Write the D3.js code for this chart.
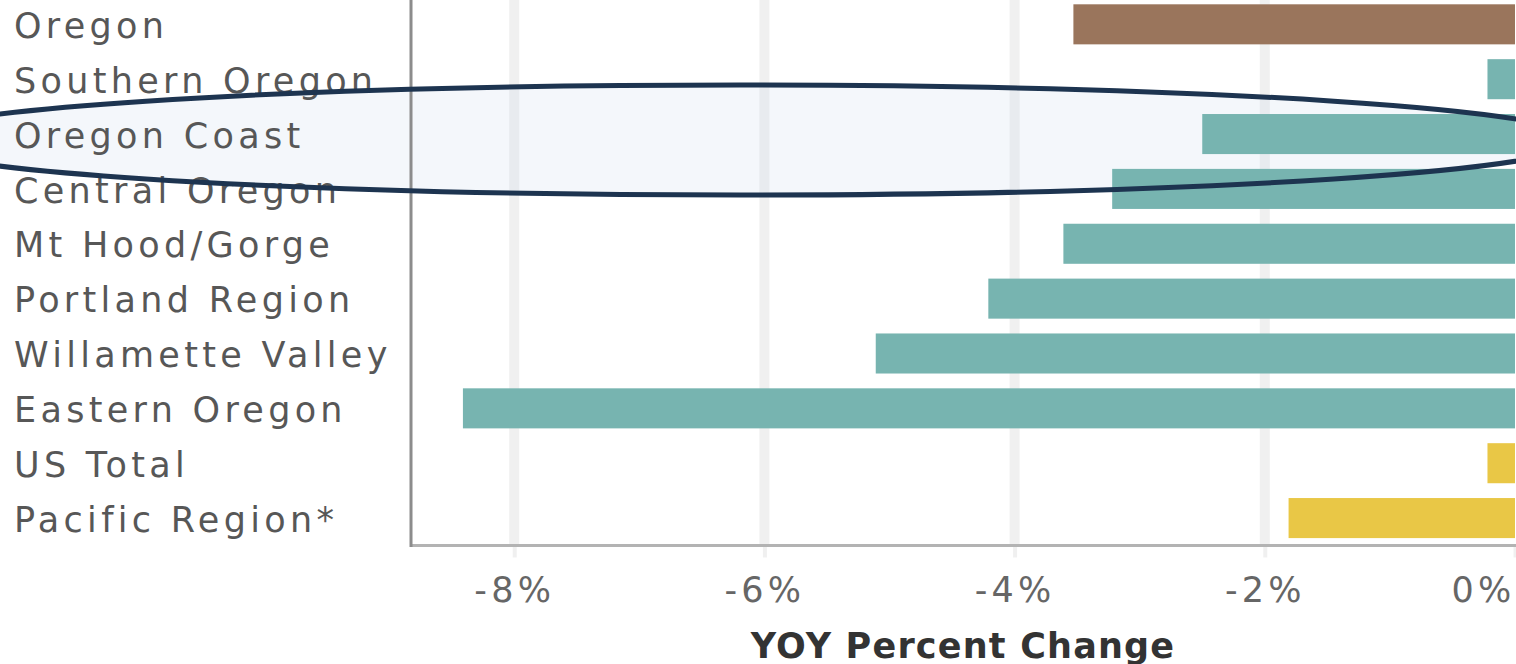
<!DOCTYPE html>
<html>
<head>
<meta charset="utf-8">
<script src="https://cdn.jsdelivr.net/npm/d3@7"></script>
<style>
  html, body { margin: 0; padding: 0; background: #fff; overflow: hidden; }
  svg { display: block; }
</style>
</head>
<body>
<svg id="chart" width="1516" height="664"></svg>
<script>
// ---- data ----
const categories = ["Oregon", "Southern Oregon", "Oregon Coast", "Central Oregon", "Mt Hood/Gorge",
  "Portland Region", "Willamette Valley", "Eastern Oregon", "US Total", "Pacific Region*"];
const values = [-3.53, -0.22, -2.50, -3.22, -3.61, -4.21, -5.11, -8.41, -0.22, -1.81];
const groups = ["state", "region", "region", "region", "region", "region", "region", "region", "nation", "nation"];
const tickValues = [-8, -6, -4, -2, 0];
const tickLabels = ["-8%", "-6%", "-4%", "-2%", "0%"];
const axisTitle = "YOY Percent Change";
const highlighted = "Oregon Coast";

const colors = { state: "#9a755c", region: "#77b4b0", nation: "#e9c746" };

const svg = d3.select("#chart");
const plotLeft = 411, plotRight = 1515, plotTop = -3.1, plotBottom = 545.5;

const x = d3.scaleLinear().domain([-8.825, 0]).range([plotLeft, plotRight]);
const y = d3.scaleBand().domain(categories).range([plotTop, plotBottom])
  .paddingInner(0.27).paddingOuter(0.135);

const font = "'DejaVu Sans', Verdana, sans-serif";

// gridlines
svg.append("g").selectAll("line").data(tickValues.filter(v => v !== 0)).join("line")
  .attr("x1", d => x(d)).attr("x2", d => x(d))
  .attr("y1", 0).attr("y2", plotBottom)
  .attr("stroke", "#f0f0f0").attr("stroke-width", 10);

// highlight ellipse fill
const hy = y(highlighted) + y.bandwidth() / 2 + 6;
const ell = { cx: 740, rx: 840, ry: 55 };
svg.append("ellipse")
  .attr("cx", ell.cx).attr("cy", hy).attr("rx", ell.rx).attr("ry", ell.ry)
  .attr("fill", "rgb(200,215,235)").attr("fill-opacity", 0.2).attr("stroke", "none");

// bars
svg.append("g").selectAll("rect").data(categories).join("rect")
  .attr("x", (d, i) => x(values[i]))
  .attr("y", d => y(d))
  .attr("width", (d, i) => x(0) - x(values[i]))
  .attr("height", y.bandwidth())
  .attr("fill", (d, i) => colors[groups[i]]);

// x axis
const xAxis = d3.axisBottom(x).tickValues(tickValues)
  .tickFormat((d, i) => tickLabels[i]).tickSize(12).tickSizeOuter(0).tickPadding(0);
const gx = svg.append("g").attr("transform", `translate(0,${plotBottom})`).call(xAxis);
gx.select(".domain").remove();
gx.selectAll(".tick line").attr("stroke", "#f0f0f0").attr("stroke-width", 4);
gx.selectAll(".tick text")
  .attr("y", 0).attr("dy", 0)
  .attr("transform", "translate(0,56)")
  .style("font-family", font).style("font-size", "35px").style("letter-spacing", "4.2px")
  .attr("fill", "#666")
  .attr("text-anchor", d => d === 0 ? "end" : "middle")
  .attr("x", d => d === 0 ? 0 : 0);

// axis lines
svg.append("line").attr("x1", plotLeft).attr("x2", plotRight + 5)
  .attr("y1", plotBottom).attr("y2", plotBottom)
  .attr("stroke", "#b3b3b3").attr("stroke-width", 3);
svg.append("line").attr("x1", plotLeft).attr("x2", plotLeft)
  .attr("y1", 0).attr("y2", plotBottom + 1.5)
  .attr("stroke", "#8c8c8c").attr("stroke-width", 3);

// category labels (y axis)
const yAxis = d3.axisLeft(y).tickSize(0).tickPadding(0);
const gy = svg.append("g").attr("transform", "translate(14,0)").call(yAxis);
gy.select(".domain").remove();
gy.selectAll(".tick text")
  .attr("x", 0).attr("dy", "0.39em")
  .attr("text-anchor", "start")
  .style("font-family", font).style("font-size", "35px").style("letter-spacing", "4.3px")
  .attr("fill", "#575757");

// ellipse stroke on top
svg.append("ellipse")
  .attr("cx", ell.cx).attr("cy", hy).attr("rx", ell.rx).attr("ry", ell.ry)
  .attr("fill", "none").attr("stroke", "#1d3450").attr("stroke-width", 5);

// axis title
svg.append("text")
  .attr("x", (plotLeft + plotRight) / 2).attr("y", 658)
  .attr("text-anchor", "middle")
  .style("font-family", font).style("font-size", "35px").style("font-weight", "bold")
  .style("letter-spacing", "1.2px")
  .attr("fill", "#333")
  .text(axisTitle);
</script>
</body>
</html>
